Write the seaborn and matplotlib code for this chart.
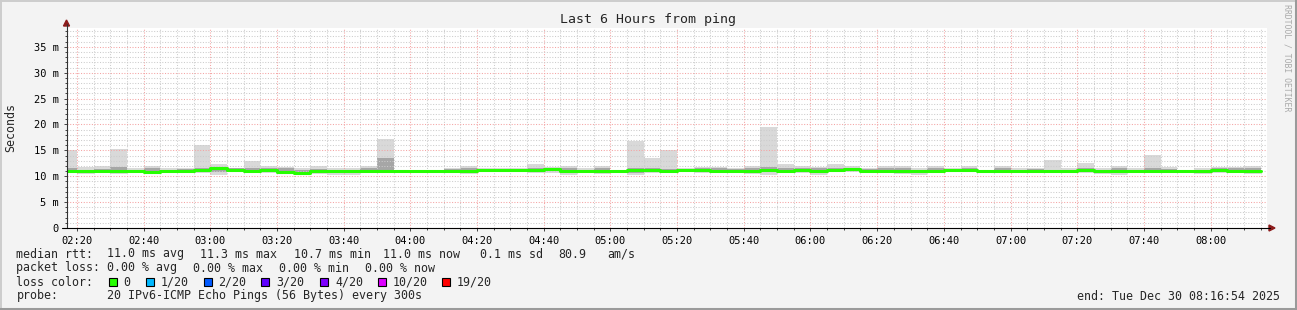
import numpy as np
import pandas as pd
import matplotlib
matplotlib.use("Agg")
import matplotlib.pyplot as plt
import seaborn as sns
from matplotlib.lines import Line2D
from matplotlib.patches import Rectangle, Polygon
from matplotlib.ticker import MultipleLocator, FixedLocator

# ---------------- data (milliseconds) ----------------
bin_minutes = list(range(0, 360, 5))  # bin start, minutes after 02:15
median = [11.1, 11.0, 11.0, 11.0, 11.1, 10.9, 11.1, 11.1, 11.2, 11.5,
          11.3, 11.0, 11.3, 10.9, 10.7, 11.0, 11.1, 11.1, 11.1, 11.0,
          11.0, 11.0, 11.0, 11.1, 11.0, 11.2, 11.2, 11.3, 11.3, 11.4,
          11.0, 11.0, 11.0, 11.0, 11.2, 11.2, 11.0, 11.3, 11.2, 11.0,
          11.0, 11.0, 11.2, 11.0, 11.2, 11.1, 11.3, 11.4, 11.1, 11.1,
          11.1, 11.0, 11.1, 11.3, 11.3, 11.0, 11.0, 11.0, 11.0, 11.0,
          11.0, 11.3, 11.0, 11.0, 11.1, 11.0, 11.0, 11.0, 11.0, 11.2,
          11.0, 11.1]
smoke_hi = [15.0, 11.7, 12.0, 15.3, 11.6, 12.0, 11.6, 11.6, 16.1, 12.4,
            11.6, 13.0, 12.0, 11.8, 11.6, 11.9, 11.6, 11.6, 11.9, 17.2,
            11.3, 11.3, 11.3, 11.5, 11.9, 11.6, 11.5, 11.5, 12.3, 11.8,
            11.9, 11.5, 11.9, 11.1, 16.9, 13.5, 15.0, 11.6, 11.8, 11.8,
            11.6, 11.9, 19.5, 12.3, 11.9, 11.8, 12.3, 11.9, 11.6, 11.9,
            11.9, 11.6, 11.9, 11.6, 11.9, 11.0, 11.9, 11.6, 11.6, 13.1,
            11.6, 12.6, 11.6, 11.9, 11.5, 14.2, 11.7, 11.1, 11.5, 11.7,
            11.8, 11.9]
smoke_lo = [10.6, 10.5, 10.6, 10.4, 10.7, 10.5, 10.6, 10.6, 10.6, 10.2,
            10.8, 10.6, 10.7, 10.5, 10.3, 10.5, 10.2, 10.2, 10.7, 10.6,
            10.7, 10.8, 10.8, 10.8, 10.5, 10.8, 10.8, 10.9, 10.7, 10.7,
            10.2, 10.6, 10.5, 10.9, 10.2, 10.7, 10.6, 10.9, 10.7, 10.6,
            10.7, 10.5, 10.3, 10.6, 10.6, 10.2, 10.8, 10.9, 10.8, 10.7,
            10.5, 10.2, 10.7, 10.8, 10.8, 10.9, 10.7, 10.7, 10.7, 10.6,
            10.7, 10.7, 10.4, 10.2, 10.7, 10.7, 10.7, 10.8, 10.5, 10.7,
            10.6, 10.5]
inner_hi = [11.5, 11.3, 11.4, 11.7, 11.3, 11.5, 11.3, 11.4, 11.6, 11.8,
            11.5, 11.5, 11.6, 11.5, 11.3, 11.4, 11.3, 11.3, 11.5, 13.5,
            11.2, 11.1, 11.2, 11.4, 11.5, 11.4, 11.4, 11.4, 11.6, 11.6,
            11.5, 11.3, 11.5, 11.0, 11.6, 11.5, 11.4, 11.4, 11.5, 11.5,
            11.4, 11.5, 11.7, 11.5, 11.6, 11.5, 11.6, 11.6, 11.4, 11.6,
            11.6, 11.3, 11.5, 11.4, 11.6, 11.0, 11.5, 11.2, 11.4, 11.3,
            11.3, 11.6, 11.3, 11.5, 11.3, 11.6, 11.4, 11.1, 11.3, 11.5,
            11.5, 11.5]
inner_lo = [10.8, 10.7, 10.8, 10.7, 10.9, 10.6, 10.8, 10.8, 10.9, 10.8,
            11.0, 10.8, 11.0, 10.7, 10.5, 10.8, 10.7, 10.7, 10.9, 10.8,
            10.9, 10.9, 10.9, 10.9, 10.8, 11.0, 11.0, 11.1, 11.0, 11.0,
            10.6, 10.8, 10.8, 10.9, 10.7, 11.0, 10.8, 11.1, 10.9, 10.8,
            10.8, 10.8, 10.8, 10.8, 10.9, 10.7, 11.0, 11.1, 10.9, 10.9,
            10.8, 10.7, 10.9, 11.0, 11.0, 10.9, 10.8, 10.9, 10.8, 10.8,
            10.8, 11.0, 10.7, 10.7, 10.9, 10.8, 10.8, 10.9, 10.7, 10.9,
            10.8, 10.8]

x_tick_pos = [5, 25, 45, 65, 85, 105, 125, 145, 165, 185, 205, 225, 245,
              265, 285, 305, 325, 345]
x_tick_labels = ["02:20", "02:40", "03:00", "03:20", "03:40", "04:00", "04:20",
                 "04:40", "05:00", "05:20", "05:40", "06:00", "06:20", "06:40",
                 "07:00", "07:20", "07:40", "08:00"]
y_tick_pos = [0, 5, 10, 15, 20, 25, 30, 35]
y_tick_labels = ["0", "5 m", "10 m", "15 m", "20 m", "25 m", "30 m", "35 m"]

loss_labels = ["0", "1/20", "2/20", "3/20", "4/20", "10/20", "19/20"]
loss_colors = ["#26ff00", "#00b8ff", "#0059ff", "#5e00ff", "#7e00ff", "#dd00ff", "#ff0000"]

# ---------------- figure ----------------
W, H = 1297, 310
sns.set_style("white")
plt.rcParams['font.family'] = ['DejaVu Sans Mono', 'DejaVu Sans']
fig = plt.figure(figsize=(W / 100, H / 100), dpi=100)
fig.patch.set_facecolor("#f3f3f3")

def fx(px):
    return px / W

def fy(py):
    return 1 - py / H

ax_l, ax_r, ax_t, ax_b = 66.5, 1267.0, 27.7, 228.0
ax = fig.add_axes([fx(ax_l), fy(ax_b), fx(ax_r) - fx(ax_l), fy(ax_t) - fy(ax_b)])
ax.set_facecolor("white")

df = pd.DataFrame({"start": bin_minutes, "median": median, "lo": smoke_lo,
                   "hi": smoke_hi, "ilo": inner_lo, "ihi": inner_hi})
ax.bar(df["start"], df["hi"] - df["lo"], bottom=df["lo"], width=5, align="edge",
       color="#d9d9d9", linewidth=0, zorder=1)
ax.bar(df["start"], df["ihi"] - df["ilo"], bottom=df["ilo"], width=5, align="edge",
       color="#a6a6a6", linewidth=0, zorder=1.1)

step_df = pd.DataFrame({"t": bin_minutes + [bin_minutes[-1] + 5],
                        "v": median + [median[-1]]})
sns.lineplot(data=step_df, x="t", y="v", ax=ax, drawstyle="steps-post",
             color="#26ff00", linewidth=2.2, zorder=4, estimator=None)

ax.set_xlim(1.9, 361.9)
ax.set_ylim(0, 38.7)
ax.set_xlabel("")
ax.set_ylabel("")

ax.xaxis.set_major_locator(FixedLocator(x_tick_pos))
ax.xaxis.set_minor_locator(MultipleLocator(5))
ax.set_xticks(x_tick_pos)
ax.set_xticklabels(x_tick_labels)
ax.set_yticks(y_tick_pos)
ax.set_yticklabels(y_tick_labels)
ax.yaxis.set_minor_locator(MultipleLocator(1))

ax.grid(which="minor", color="#cccccc", linestyle=(0, (1, 1.6)), linewidth=0.75, zorder=3)
ax.grid(which="major", color="#f4a3a3", linestyle=(0, (1, 1.6)), linewidth=0.75, zorder=3)
ax.set_axisbelow(False)

ax.tick_params(axis="both", which="major", length=2.5, width=0.7, color="#444444",
               labelsize=7.5, labelcolor="#000000")
ax.tick_params(axis="both", which="minor", length=1.5, width=0.7, color="#444444")
ax.tick_params(axis="x", which="both", direction="out", pad=3)
ax.tick_params(axis="y", which="both", direction="out", pad=3)
ax.tick_params(left=True, bottom=True, which="both")
for s in ax.spines.values():
    s.set_visible(False)

# axis lines with arrows
fig.add_artist(Line2D([fx(66.5), fx(66.5)], [fy(228), fy(24)], color="#333333", lw=0.8))
fig.add_artist(Line2D([fx(62), fx(1270)], [fy(228), fy(228)], color="#000000", lw=0.8))
fig.add_artist(Polygon([[fx(63.5), fy(26)], [fx(69.5), fy(26)], [fx(66.5), fy(20)]],
                       closed=True, transform=fig.transFigure, color="#8c1b1b"))
fig.add_artist(Polygon([[fx(1269), fy(225)], [fx(1269), fy(231)], [fx(1275), fy(228)]],
                       closed=True, transform=fig.transFigure, color="#8c1b1b"))

# frame
fig.add_artist(Line2D([0, 1], [fy(0.5), fy(0.5)], color="#cccccc", lw=1.4))
fig.add_artist(Line2D([fx(0.5), fx(0.5)], [0, 1], color="#cccccc", lw=1.4))
fig.add_artist(Line2D([0, 1], [fy(309), fy(309)], color="#9a9a9a", lw=2.2))
fig.add_artist(Line2D([fx(1296), fx(1296)], [0, 1], color="#9a9a9a", lw=2.2))

# texts
fs = 8.35
fig.text(fx(648), fy(19), "Last 6 Hours from ping", ha="center", va="center", fontsize=9.5)
fig.text(fx(11), fy(127), "Seconds", ha="center", va="center", rotation=90, fontsize=fs)
fig.text(fx(1287), fy(4), "RRDTOOL / TOBI OETIKER", ha="center", va="top", rotation=270,
         fontsize=5.9, color="#aaaaaa")

rows = [254, 268, 282, 296]
rtt_parts = [(16.5, "median rtt:"), (107, "11.0 ms avg"), (200, "11.3 ms max"),
             (294, "10.7 ms min"), (383, "11.0 ms now"), (479.5, "0.1 ms sd"),
             (558, "80.9"), (607, "am/s")]
for x, t in rtt_parts:
    fig.text(fx(x), fy(rows[0]), t, ha="left", va="center", fontsize=fs)
loss_parts = [(16.5, "packet loss:"), (107, "0.00 % avg"), (193, "0.00 % max"),
              (279, "0.00 % min"), (365, "0.00 % now")]
for x, t in loss_parts:
    fig.text(fx(x), fy(rows[1]), t, ha="left", va="center", fontsize=fs)
fig.text(fx(16.5), fy(rows[2]), "loss color:", ha="left", va="center", fontsize=fs)
sq_x = [108.5, 146, 203.5, 261, 320, 377.5, 442]
for x, lab, c in zip(sq_x, loss_labels, loss_colors):
    fig.add_artist(Rectangle((fx(x), fy(rows[2] + 4)), fx(8), 8 / H, transform=fig.transFigure,
                             facecolor=c, edgecolor="black", linewidth=0.8))
    fig.text(fx(x + 15), fy(rows[2]), lab, ha="left", va="center", fontsize=fs)
fig.text(fx(16.5), fy(rows[3]), "probe:", ha="left", va="center", fontsize=fs)
fig.text(fx(107), fy(rows[3]), "20 IPv6-ICMP Echo Pings (56 Bytes) every 300s",
         ha="left", va="center", fontsize=fs)
fig.text(fx(1280), fy(rows[3]), "end: Tue Dec 30 08:16:54 2025", ha="right", va="center",
         fontsize=fs)

fig.savefig("out.png", dpi=100, facecolor=fig.get_facecolor())
